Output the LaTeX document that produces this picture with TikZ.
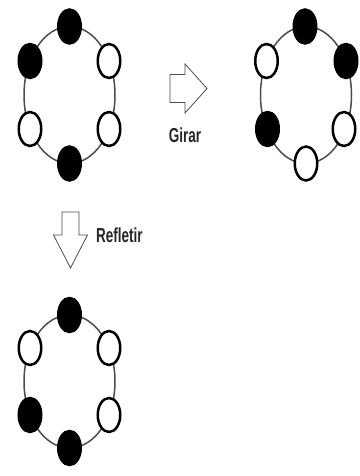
\documentclass[tikz,border=0pt]{standalone}
\usepackage{fontspec}
\setmainfont{Liberation Sans}
\usepackage{tikz}
\usetikzlibrary{shapes.geometric}

\begin{document}
\begin{tikzpicture}[x=1pt, y=-1pt,
    conta/.style={draw, ellipse, line width=2.5pt, minimum width=22.5pt, minimum height=34pt, inner sep=0pt},
    preta/.style={conta, fill=black},
    branca/.style={conta, fill=white},
    anel/.style={draw=black!70, line width=1.5pt},
    seta/.style={draw=black!70, line width=0.8pt, fill=white},
    rotulo/.style={font=\fontsize{13.5}{14}\bfseries, text=black!85}]
    \useasboundingbox (0,0) rectangle (359,476);

    % Aneis
    \draw[anel] (69.5,95) ellipse (45.5pt and 68.5pt);
    \draw[anel] (306,95) ellipse (45.5pt and 68.5pt);
    \draw[anel] (69.5,381.5) ellipse (45.5pt and 66.5pt);

    % Contas - original
    \node[preta] (t1) at (69.5,26.5) {};
    \node[preta] (ul1) at (30,61) {};
    \node[branca] (ur1) at (109,61) {};
    \node[branca] (ll1) at (30,129) {};
    \node[branca] (lr1) at (109,129) {};
    \node[preta] (b1) at (69.5,163.5) {};

    % Contas - girar
    \node[preta] (t2) at (305,26.5) {};
    \node[branca] (ul2) at (266.5,61) {};
    \node[preta] (ur2) at (346,61) {};
    \node[preta] (ll2) at (267.5,129) {};
    \node[branca] (lr2) at (344,129) {};
    \node[branca] (b2) at (306,163.5) {};

    % Contas - refletir
    \node[preta] (t3) at (69.5,315) {};
    \node[branca] (ul3) at (30,348) {};
    \node[branca] (ur3) at (109,348) {};
    \node[preta] (ll3) at (30,415) {};
    \node[branca] (lr3) at (109,415) {};
    \node[preta] (b3) at (69.5,448) {};

    % Setas
    \draw[seta] (170,74.5) -- (185,74.5) -- (185,64) -- (207,88.5) -- (185,113)
        -- (185,102.5) -- (170,102.5) -- cycle;
    \node[rotulo] (girar) at (185,135) {\scalebox{1}[1.5]{Girar}};
    \draw[seta] (62,212) -- (79,212) -- (79,235) -- (87.5,235) -- (70.5,268)
        -- (53.5,235) -- (62,235) -- cycle;
    \node[rotulo, anchor=west, inner sep=0pt] (refletir) at (96,235) {\scalebox{1}[1.5]{Refletir}};
\end{tikzpicture}
\end{document}
